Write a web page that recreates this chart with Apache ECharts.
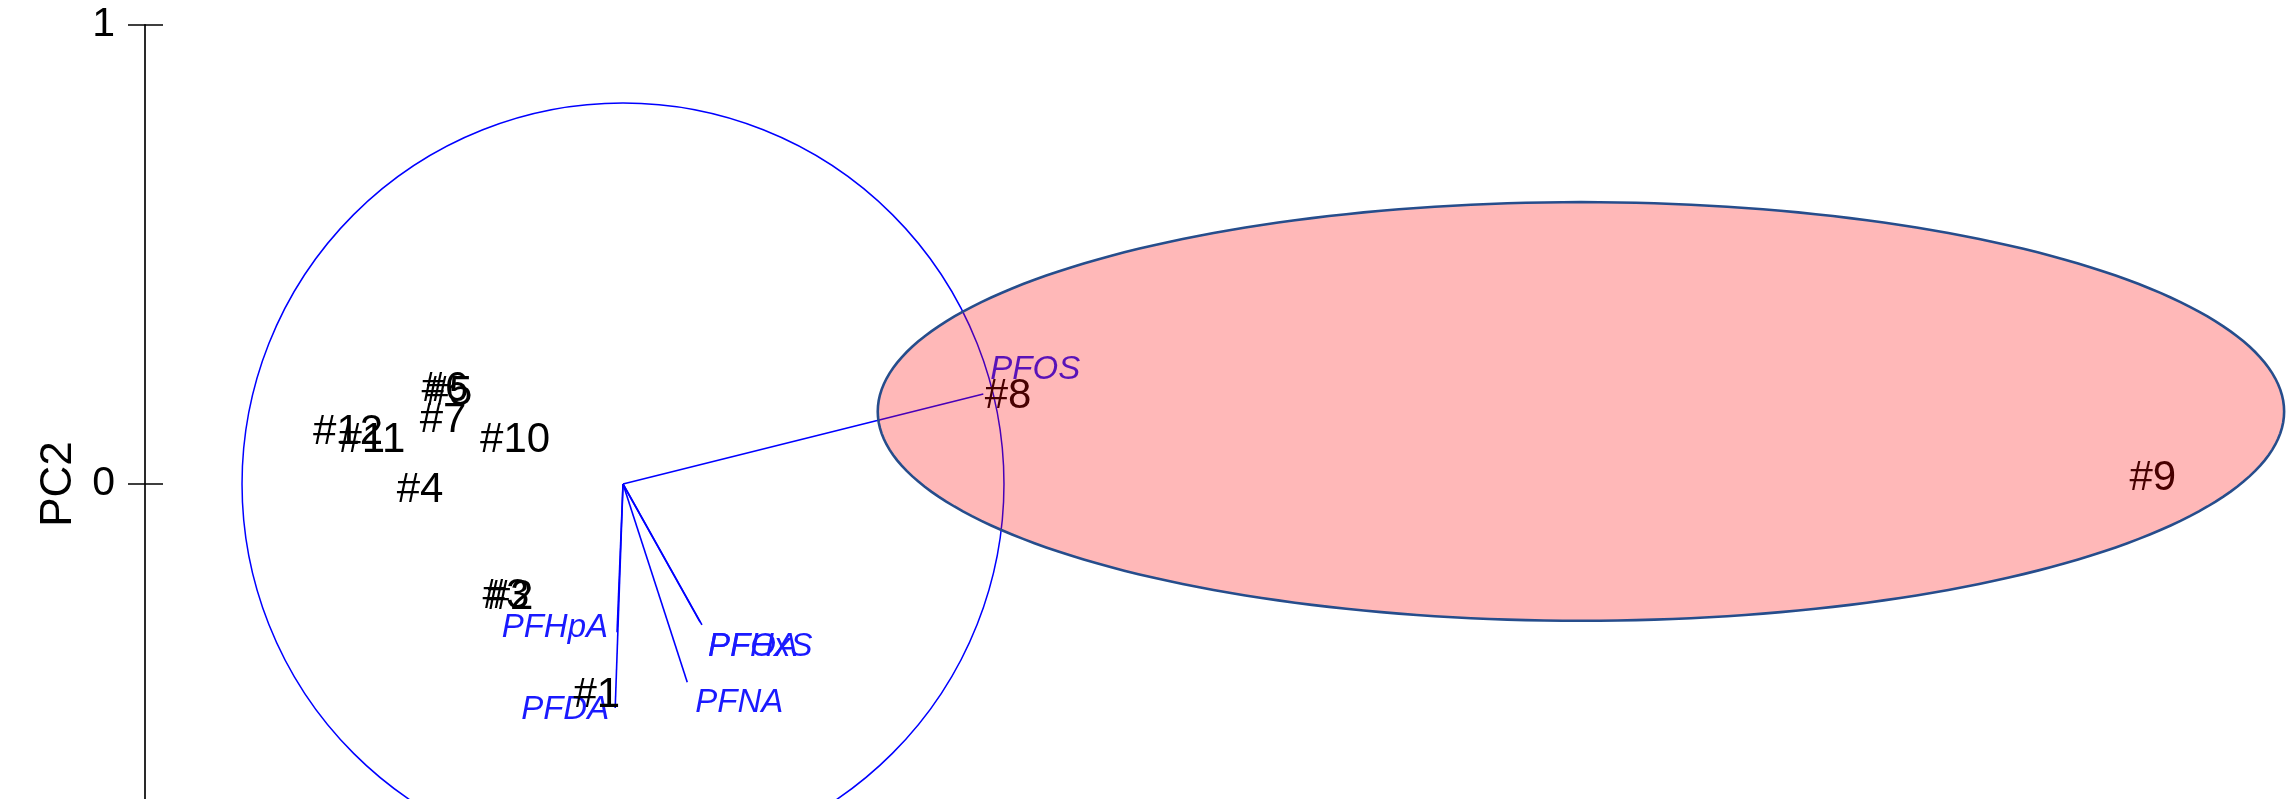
<!DOCTYPE html>
<html>
<head>
<meta charset="utf-8">
<script src="https://cdn.jsdelivr.net/npm/echarts@6/dist/echarts.min.js"></script>
<style>
  html, body { margin: 0; padding: 0; background: #ffffff; }
  #chart { width: 2291px; height: 799px; }
</style>
</head>
<body>
<div id="chart"></div>
<script>
// Sample scores on the first two principal components
const sampleNames = ['#1', '#2', '#3', '#4', '#5', '#6', '#7', '#8', '#9', '#10', '#11', '#12'];
const samplePC1   = [-0.057, -0.246, -0.255, -0.442, -0.379, -0.388, -0.392, 0.839, 3.333, -0.235, -0.547, -0.599];
const samplePC2   = [-0.460, -0.248, -0.244, -0.013, 0.198, 0.207, 0.139, 0.190, 0.013, 0.096, 0.096, 0.113];

// Variable loadings (arrows)
const varNames = ['PFOS', 'PFHxS', 'PFOA', 'PFNA', 'PFHpA', 'PFDA'];
const varPC1   = [0.785, 0.172, 0.168, 0.140, -0.013, -0.017];
const varPC2   = [0.196, -0.307, -0.301, -0.432, -0.323, -0.488];

// Correlation circle and group ellipse
const circleRadius  = 0.83;
const ellipseCenter = [2.087, 0.158];
const ellipseSemi   = [1.532, 0.456];

// Vertical axis
const yTickValues = [0, 1];
const yMin = -1, yMax = 1, yInterval = 1;
const xMin = -1.0414, xMax = 3.75;

// Label placement for the loading names (pixel offsets from the arrow tip)
const varLabelStyle = {
  PFOS:  { align: 'left',  dx: 7,  dy: -24 },
  PFHxS: { align: 'left',  dx: 6,  dy: 22 },
  PFOA:  { align: 'left',  dx: 8,  dy: 25 },
  PFNA:  { align: 'left',  dx: 8,  dy: 21 },
  PFHpA: { align: 'right', dx: -9, dy: -4 },
  PFDA:  { align: 'right', dx: -6, dy: 2 }
};

const FONT = '"Liberation Sans", Arial, sans-serif';
const PX_PER_UNIT = 459;

const sampleData = sampleNames.map((n, i) => [samplePC1[i], samplePC2[i], n]);
const varData = varNames.map((n, i) => [varPC1[i], varPC2[i], n]);

const chart = echarts.init(document.getElementById('chart'), null, { renderer: 'canvas' });

const option = {
  animation: false,
  backgroundColor: '#ffffff',
  grid: {
    left: 145,
    top: 25,
    width: (xMax - xMin) * PX_PER_UNIT,
    height: (yMax - yMin) * PX_PER_UNIT,
    containLabel: false,
    outerBoundsMode: 'none'
  },
  xAxis: {
    type: 'value', min: xMin, max: xMax, show: false
  },
  yAxis: [
    {
      type: 'value', min: yMin, max: yMax, interval: yInterval,
      position: 'left',
      name: 'PC2', nameLocation: 'middle', nameGap: 64,
      nameTextStyle: { fontFamily: FONT, fontSize: 44, color: '#000' },
      splitLine: { show: false },
      axisLine: { show: true, onZero: false, lineStyle: { color: '#2a2a2a', width: 2 } },
      axisTick: { show: true, inside: false, length: 17, lineStyle: { color: '#000', width: 1.5 } },
      axisLabel: {
        margin: 30, fontFamily: FONT, fontSize: 41, color: '#000',
        formatter: v => (yTickValues.indexOf(v) >= 0 ? String(v) : '')
      }
    },
    {
      type: 'value', min: yMin, max: yMax, interval: yInterval,
      position: 'left',
      splitLine: { show: false },
      axisLine: { show: false, onZero: false },
      axisTick: { show: true, inside: true, length: 18, lineStyle: { color: '#000', width: 1.5 } },
      axisLabel: { show: false }
    }
  ],
  series: [
    // correlation circle
    {
      type: 'custom', z: 2, silent: true,
      data: [[0, 0]],
      renderItem: function (params, api) {
        const c = api.coord([0, 0]);
        const r = api.size([circleRadius, 0])[0];
        return {
          type: 'circle', shape: { cx: c[0], cy: c[1], r: r },
          style: { fill: 'none', stroke: '#0000ff', lineWidth: 1.5 }
        };
      },
      clip: false
    },
    // loading arrows and their names
    {
      type: 'custom', z: 3, silent: true,
      data: varData,
      renderItem: function (params, api) {
        const o = api.coord([0, 0]);
        const t = api.coord([api.value(0), api.value(1)]);
        const name = varNames[params.dataIndex];
        const ls = varLabelStyle[name];
        return {
          type: 'group',
          children: [
            { type: 'line', shape: { x1: o[0], y1: o[1], x2: t[0], y2: t[1] },
              style: { stroke: '#0000ff', lineWidth: 1.6 } },
            { type: 'text', x: t[0] + ls.dx, y: t[1] + ls.dy,
              style: { text: name, fill: '#1a1aff', fontFamily: FONT, fontSize: 33,
                       fontStyle: 'italic', align: ls.align, verticalAlign: 'middle' } }
          ]
        };
      },
      clip: false
    },
    // sample labels
    {
      type: 'custom', z: 4, silent: true,
      data: sampleData,
      renderItem: function (params, api) {
        const p = api.coord([api.value(0), api.value(1)]);
        return {
          type: 'text', x: p[0], y: p[1],
          style: { text: sampleNames[params.dataIndex], fill: '#000000', fontFamily: FONT,
                   fontSize: 42, align: 'center', verticalAlign: 'middle' }
        };
      },
      clip: false
    },
    // group ellipse, translucent, drawn above everything
    {
      type: 'custom', z: 10, silent: true,
      data: [ellipseCenter],
      renderItem: function (params, api) {
        const pts = [];
        const N = 240;
        for (let k = 0; k < N; k++) {
          const a = 2 * Math.PI * k / N;
          pts.push(api.coord([
            ellipseCenter[0] + ellipseSemi[0] * Math.cos(a),
            ellipseCenter[1] + ellipseSemi[1] * Math.sin(a)
          ]));
        }
        return {
          type: 'polygon', shape: { points: pts },
          style: { fill: 'rgba(255,0,0,0.28)', stroke: '#264d8c', lineWidth: 2.6 }
        };
      },
      clip: false
    }
  ]
};

chart.setOption(option);
</script>
</body>
</html>
